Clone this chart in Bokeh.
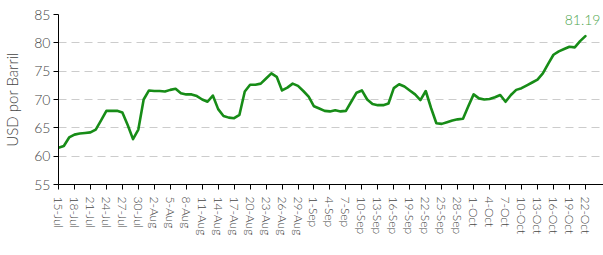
from bokeh.plotting import figure
from bokeh.models import FixedTicker, Range1d, Label
from bokeh.embed import file_html
from bokeh.resources import INLINE

tick_labels = ["15-Jul", "18-Jul", "21-Jul", "24-Jul", "27-Jul", "30-Jul", "2-Aug", "5-Aug",
               "8-Aug", "11-Aug", "14-Aug", "17-Aug", "20-Aug", "23-Aug", "26-Aug", "29-Aug",
               "1-Sep", "4-Sep", "7-Sep", "10-Sep", "13-Sep", "16-Sep", "19-Sep", "22-Sep",
               "25-Sep", "28-Sep", "1-Oct", "4-Oct", "7-Oct", "10-Oct", "13-Oct", "16-Oct",
               "19-Oct", "22-Oct"]

prices = [61.5, 61.8, 63.3, 63.8, 64.0, 64.1, 64.2, 64.7, 66.3, 68.0,
          68.0, 68.0, 67.7, 65.5, 63.0, 64.7, 70.0, 71.6, 71.5, 71.5,
          71.4, 71.7, 71.9, 71.1, 70.9, 70.9, 70.6, 70.0, 69.6, 70.7,
          68.3, 67.1, 66.8, 66.7, 67.3, 71.4, 72.6, 72.6, 72.8, 73.7,
          74.6, 74.0, 71.6, 72.1, 72.8, 72.4, 71.5, 70.5, 68.8, 68.4,
          68.0, 67.9, 68.1, 67.9, 68.0, 69.6, 71.2, 71.6, 70.0, 69.2,
          69.0, 69.0, 69.3, 72.0, 72.7, 72.3, 71.6, 70.9, 69.9, 71.5,
          68.5, 65.8, 65.7, 66.0, 66.3, 66.5, 66.6, 68.8, 70.9, 70.2,
          70.0, 70.1, 70.4, 70.8, 69.6, 70.8, 71.7, 72.0, 72.5, 73.0,
          73.5, 74.6, 76.3, 77.9, 78.5, 78.9, 79.3, 79.2, 80.3, 81.19]

days = list(range(len(prices)))
tick_days = list(range(0, len(prices), 3))
y_ticks = [55, 60, 65, 70, 75, 80, 85]

FONT = "'Lato Light', Lato"
GREY = "#444444"

p = figure(width=603, height=255, output_backend="svg", toolbar_location=None,
           x_range=Range1d(0, 102.4), y_range=Range1d(55, 85),
           min_border_left=57, min_border_right=0, min_border_top=14, min_border_bottom=71)
p.outline_line_color = None
p.background_fill_color = "white"

p.xgrid.grid_line_color = None
p.ygrid.grid_line_color = "#cccccc"
p.ygrid.grid_line_dash = "8 5"
p.ygrid.grid_line_width = 1
p.ygrid.ticker = FixedTicker(ticks=y_ticks)

p.yaxis.ticker = FixedTicker(ticks=y_ticks)
p.yaxis.axis_label = "USD por Barril"
p.yaxis.axis_label_text_font = FONT
p.yaxis.axis_label_text_font_size = "15px"
p.yaxis.axis_label_text_font_style = "normal"
p.yaxis.axis_label_text_color = GREY
p.yaxis.axis_label_standoff = 10
p.yaxis.major_label_text_font = FONT
p.yaxis.major_label_text_font_size = "14px"
p.yaxis.major_label_text_color = GREY
p.yaxis.major_label_standoff = 3
p.yaxis.major_tick_in = 0
p.yaxis.major_tick_out = 5
p.yaxis.minor_tick_line_color = None
p.yaxis.axis_line_color = "black"
p.yaxis.major_tick_line_color = "black"

p.xaxis.ticker = FixedTicker(ticks=tick_days)
p.xaxis.major_label_overrides = {d: lab for d, lab in zip(tick_days, tick_labels)}
p.xaxis.major_label_orientation = "vertical"
p.xaxis.major_label_text_font = FONT
p.xaxis.major_label_text_font_size = "12px"
p.xaxis.major_label_text_color = GREY
p.xaxis.major_label_standoff = 7
p.xaxis.major_tick_in = 0
p.xaxis.major_tick_out = 5
p.xaxis.minor_tick_line_color = None
p.xaxis.axis_line_color = "black"
p.xaxis.major_tick_line_color = "black"

p.line(days, prices, line_color="#178c17", line_width=2.6, line_join="round", line_cap="round")

p.add_layout(Label(x=days[-1], y=prices[-1], text=f"{prices[-1]:.2f}", text_align="right",
                   x_offset=15, y_offset=11, text_font=FONT, text_font_size="14px",
                   text_color="#4fa64f"))

open("out.html", "w").write(file_html(p, INLINE))
